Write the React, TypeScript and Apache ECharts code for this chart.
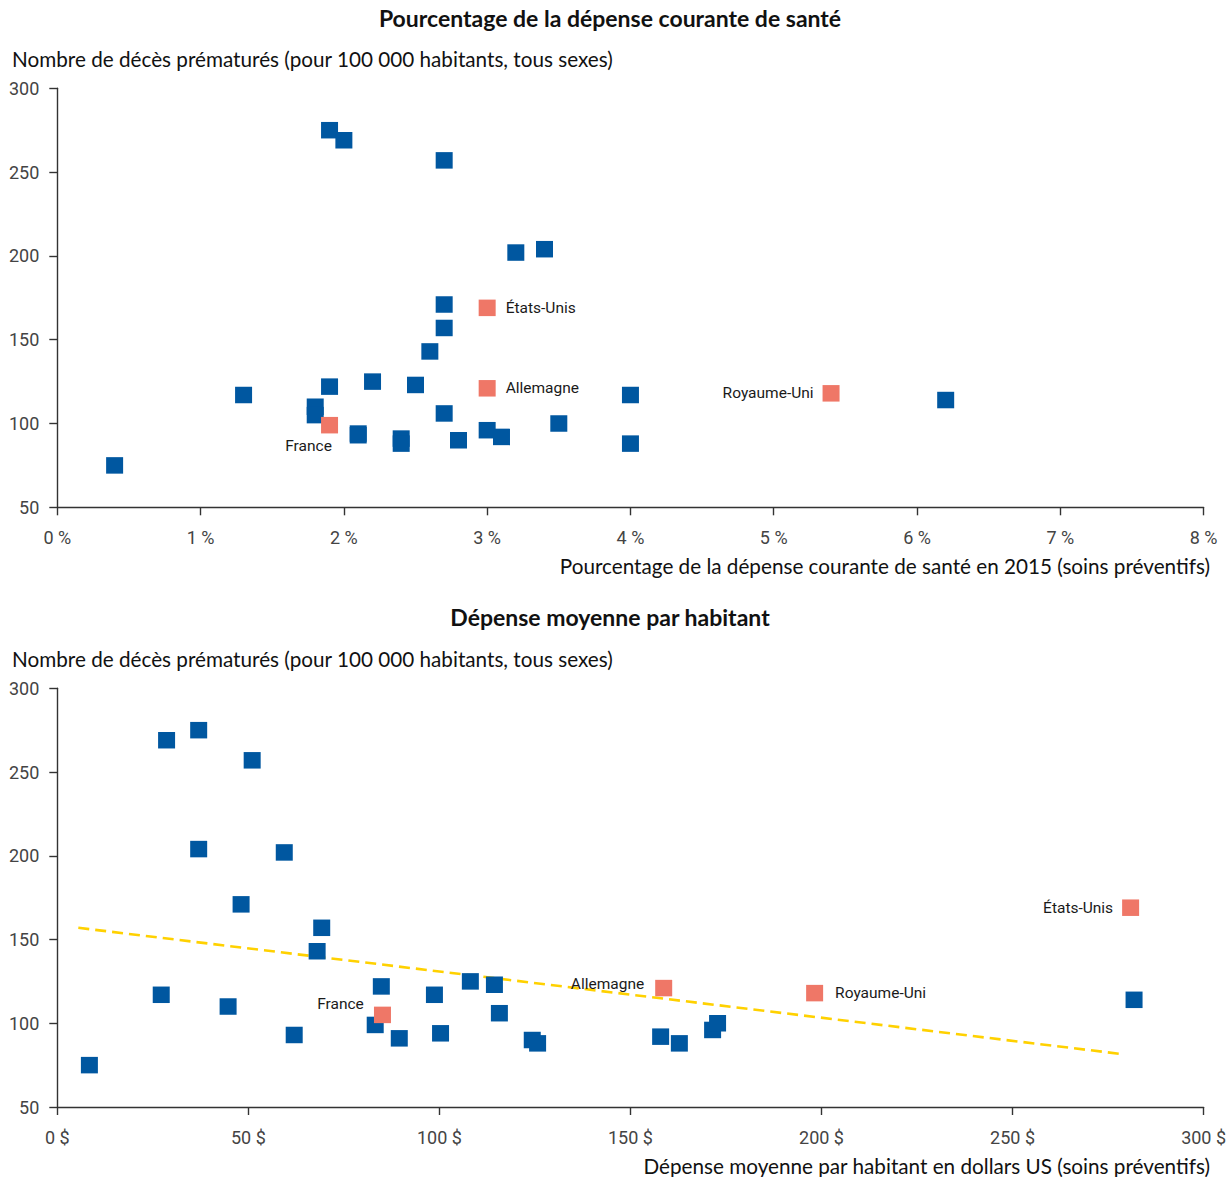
import React, { useEffect, useRef } from "react";
import * as echarts from "echarts";

// ---- Data ----
const countryNames = ["États-Unis", "Allemagne", "Royaume-Uni", "France"];

// Top chart: % of current health expenditure (preventive care) vs premature deaths
const topBlueX = [1.9, 2.0, 2.7, 3.2, 3.4, 2.7, 2.7, 2.6, 1.9, 2.2, 2.5, 1.3, 1.8, 1.8, 2.7, 2.1, 2.1, 2.4, 2.4, 2.8, 3.0, 3.1, 3.5, 0.4, 4.0, 4.0, 6.2];
const topBlueY = [275, 269, 257, 202, 204, 171, 157, 143, 122, 125, 123, 117, 110, 105, 106, 94, 93, 91, 88, 90, 96, 92, 100, 75, 117, 88, 114];
const topHiX = [3.0, 3.0, 5.4, 1.9];
const topHiY = [169, 121, 118, 99];

// Bottom chart: average spending per inhabitant (USD) vs premature deaths
const botBlueX = [28.6, 37, 51, 37, 59.4, 48.1, 69.2, 68, 27.2, 44.7, 62, 84.8, 83.2, 89.5, 98.7, 100.3, 108.1, 114.4, 115.7, 124.3, 125.7, 8.4, 281.8, 157.9, 162.8, 171.5, 172.8];
const botBlueY = [269, 275, 257, 204, 202, 171, 157, 143, 117, 110, 93, 122, 99, 91, 117, 94, 125, 123, 106, 90, 88, 75, 114, 92, 88, 96, 100];
const botHiX = [280.9, 158.7, 198.2, 85.1];
const botHiY = [169, 121, 118, 105];
const trendX = [5.5, 279];
const trendY = [157, 81.5];

// Axis settings
const yMin = 50, yMax = 300, yStep = 50;
const topXMin = 0, topXMax = 8, topXStep = 1;
const botXMin = 0, botXMax = 300, botXStep = 50;

const titleTop = "Pourcentage de la dépense courante de santé";
const titleBot = "Dépense moyenne par habitant";
const yName = "Nombre de décès prématurés (pour 100 000 habitants, tous sexes)";
const xNameTop = "Pourcentage de la dépense courante de santé en 2015 (soins préventifs)";
const xNameBot = "Dépense moyenne par habitant en dollars US (soins préventifs)";

// ---- Styles ----
const BLUE = "#0057A0";
const PINK = "#EF7767";
const GOLD = "#FFD100";
const MAIN_FONT = "Lato, 'Noto Sans', sans-serif";
const NARROW_FONT = "Roboto, 'Noto Sans', sans-serif";

const topLabelCfg = [
  { position: "right", distance: 10 },
  { position: "right", distance: 10 },
  { position: "left", distance: 9 },
  { position: "inside", offset: [-21, 21] },
];
const botLabelCfg = [
  { position: "left", distance: 9 },
  { position: "left", distance: 11, offset: [0, -4] },
  { position: "right", distance: 12 },
  { position: "inside", offset: [-42, -11] },
];

function zip(xs: number[], ys: number[]) {
  return xs.map((x, i) => [x, ys[i]]);
}

export default function App() {
  const ref = useRef<HTMLDivElement>(null);

  useEffect(() => {
    if (!ref.current) return;
    const chart = echarts.init(ref.current, null, { renderer: "svg" });

    const axisLine = { show: true, lineStyle: { color: "#333", width: 1.4 } };
    const axisTick = { show: true, length: 8, inside: false, lineStyle: { color: "#333", width: 1.4 } };
    const tickLabel = { fontFamily: NARROW_FONT, fontSize: 18, color: "#444" };

    const makeX = (gi: number, min: number, max: number, step: number, unit: string) => ({
      type: "value",
      gridIndex: gi,
      min,
      max,
      interval: step,
      axisLine,
      axisTick,
      splitLine: { show: false },
      axisLabel: { ...tickLabel, margin: 21, formatter: (v: number) => `${v} ${unit}` },
    });
    const makeY = (gi: number) => ({
      type: "value",
      gridIndex: gi,
      min: yMin,
      max: yMax,
      interval: yStep,
      axisLine,
      axisTick,
      splitLine: { show: false },
      axisLabel: { ...tickLabel, margin: 18 },
    });

    const hiData = (xs: number[], ys: number[], cfg: any[]) =>
      xs.map((x, i) => ({
        name: countryNames[i],
        value: [x, ys[i]],
        label: { show: true, ...cfg[i] },
      }));

    const markerBase = { type: "scatter", symbol: "rect", symbolSize: [17, 16.5] };
    const hiLabel = {
      show: true,
      formatter: "{b}",
      fontFamily: NARROW_FONT,
      fontSize: 15.5,
      color: "#1a1a1a",
    };

    const text = (t: string, x: number, y: number, align: string, bold = false, size = 20.7) => ({
      type: "text",
      x,
      y,
      style: {
        text: t,
        fill: "#111",
        font: `${bold ? "bold " : ""}${size}px ${MAIN_FONT}`,
        textAlign: align,
        align,
        textVerticalAlign: "middle",
        verticalAlign: "middle",
      },
    });

    chart.setOption({
      animation: false,
      backgroundColor: "#fff",
      grid: [
        { left: 57.3, top: 88.3, width: 1146.3, height: 419 },
        { left: 57.3, top: 688.3, width: 1146.3, height: 418.7 },
      ],
      xAxis: [
        makeX(0, topXMin, topXMax, topXStep, "%"),
        makeX(1, botXMin, botXMax, botXStep, "$"),
      ],
      yAxis: [makeY(0), makeY(1)],
      series: [
        { ...markerBase, xAxisIndex: 0, yAxisIndex: 0, data: zip(topBlueX, topBlueY), itemStyle: { color: BLUE, opacity: 1 } },
        {
          ...markerBase,
          xAxisIndex: 0,
          yAxisIndex: 0,
          data: hiData(topHiX, topHiY, topLabelCfg),
          itemStyle: { color: PINK, opacity: 1 },
          label: hiLabel,
          z: 3,
        },
        {
          type: "line",
          xAxisIndex: 1,
          yAxisIndex: 1,
          data: zip(trendX, trendY),
          symbol: "none",
          lineStyle: { color: GOLD, width: 2.6, type: [11, 6] },
          z: 1,
        },
        { ...markerBase, xAxisIndex: 1, yAxisIndex: 1, data: zip(botBlueX, botBlueY), itemStyle: { color: BLUE, opacity: 1 }, z: 2 },
        {
          ...markerBase,
          xAxisIndex: 1,
          yAxisIndex: 1,
          data: hiData(botHiX, botHiY, botLabelCfg),
          itemStyle: { color: PINK, opacity: 1 },
          label: hiLabel,
          z: 3,
        },
      ],
      graphic: [
        text(titleTop, 610, 18, "center", true, 23),
        text(yName, 12, 59, "left"),
        text(xNameTop, 1210, 566, "right"),
        text(titleBot, 610, 617, "center", true, 23),
        text(yName, 12, 659, "left"),
        text(xNameBot, 1210, 1166, "right"),
      ],
    });

    return () => chart.dispose();
  }, []);

  return (
    <div
      ref={ref}
      style={{ position: "absolute", left: 0, top: 0, width: 1231, height: 1177, background: "#fff" }}
    />
  );
}
